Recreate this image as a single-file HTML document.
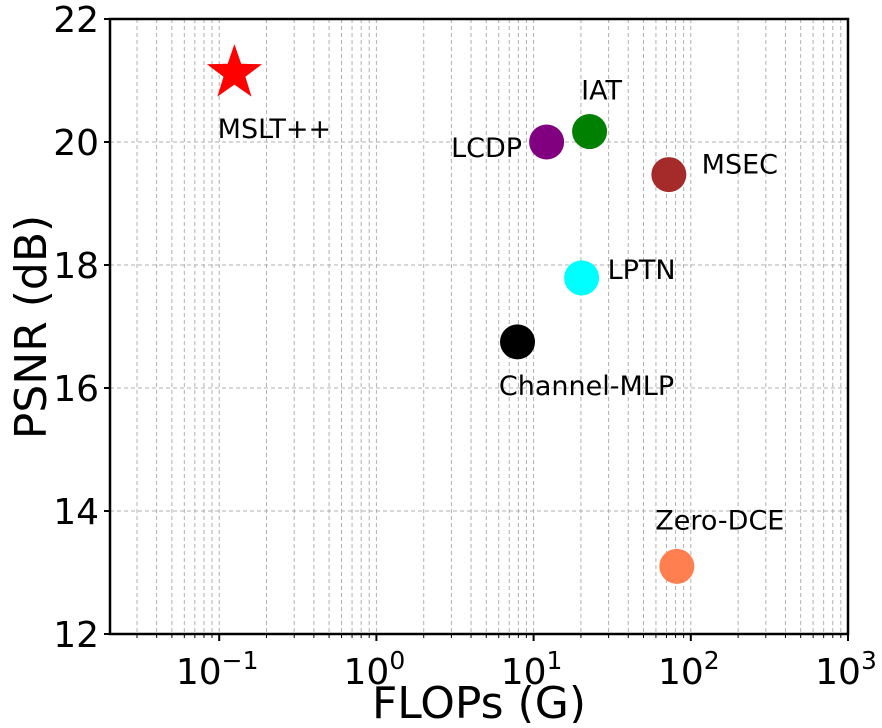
<!DOCTYPE html>
<html><head><meta charset="utf-8"><style>
body{margin:0;background:#fff}
svg text{font-family:"DejaVu Sans","Liberation Sans",sans-serif}
</style></head><body>
<svg id="chart" width="882" height="723"></svg>
<script>
const names=["MSLT++","LCDP","IAT","MSEC","LPTN","Channel-MLP","Zero-DCE"];
const flops=[0.125,12.1,22.7,72.5,20.2,7.9,81.5];
const psnr=[21.12,20.0,20.17,19.47,17.79,16.75,13.1];
const colors=["red","purple","green","#a52a2a","cyan","black","#ff7f50"];
const labelDx=[40,-60,12,71,60,69,43];
const labelDy=[55,5,-42,-11,-9,43,-47];
const yTicks=[12,14,16,18,20,22];
const xExps=[-1,0,1,2,3];
const L=110,R=848,T=19,B=634;
const xmin=Math.log10(0.0202),xmax=3;
const X=v=>L+(Math.log10(v)-xmin)/(xmax-xmin)*(R-L);
const Y=v=>B-(v-12)/10*(B-T);
const svg=document.getElementById('chart');
const NS="http://www.w3.org/2000/svg";
function el(t,a,p){const e=document.createElementNS(NS,t);for(const k in a)e.setAttribute(k,a[k]);(p||svg).appendChild(e);return e;}
for(let e=-2;e<3;e++)for(let m=1;m<10;m++){const v=m*Math.pow(10,e);if(v<0.0202)continue;
 const g=el('line',{x1:X(v),x2:X(v),y1:T,y2:B,stroke:'#b0b0b0','stroke-width':1,'stroke-dasharray':'4,3'});
 
 }
yTicks.forEach(v=>{const g=el('line',{x1:L,x2:R,y1:Y(v),y2:Y(v),stroke:'#b0b0b0','stroke-width':1,'stroke-dasharray':'4,3'});
 
 
 const tk=el('line',{x1:L-6,x2:L,y1:Y(v),y2:Y(v),stroke:'#000','stroke-width':2});
 
 
 const t=el('text',{x:L-11,y:Y(v)+13,'text-anchor':'end','font-size':36});t.textContent=v;
 
 });
xExps.forEach(e=>{const x=X(Math.pow(10,e));
 const tk=el('line',{x1:x,x2:x,y1:B,y2:B+7,stroke:'#000','stroke-width':2});
 
 
 const t=el('text',{x:x-2,y:B+50,'text-anchor':'middle','font-size':36});
 t.innerHTML='10<tspan dy="-15" font-size="25">'+(e<0?'\u2212'+(-e):e)+'</tspan>';
 
 });
for(let e=-2;e<3;e++)for(let m=2;m<10;m++){const v=m*Math.pow(10,e);if(v<0.0202)continue;
 const tk=el('line',{x1:X(v),x2:X(v),y1:B,y2:B+4,stroke:'#000','stroke-width':1});
 
 }
const fr=el('rect',{x:L,y:T,width:R-L,height:B-T,fill:'none',stroke:'#000','stroke-width':2.5});


names.forEach((n,i)=>{const cx=X(flops[i]),cy=Y(psnr[i]);let m;
 if(i===0){const pts=[];for(let k=0;k<10;k++){const r=k%2?11.5:29,a=-Math.PI/2+k*Math.PI/5;pts.push((cx+r*Math.cos(a)).toFixed(1)+','+(cy+r*Math.sin(a)).toFixed(1));}
  m=el('polygon',{points:pts.join(' '),fill:colors[i]});}
 else m=el('circle',{cx:cx,cy:cy,r:17.5,fill:colors[i]});
 
 
 const t=el('text',{x:cx+labelDx[i],y:cy+labelDy[i]+10,'text-anchor':'middle','font-size':27});t.textContent=n;
 
 });
const xt=el('text',{x:(L+R)/2,y:718,'text-anchor':'middle','font-size':44});xt.textContent='FLOPs (G)';


const yt=el('text',{x:0,y:0,'text-anchor':'middle','font-size':44,transform:'translate(46,327) rotate(-90)'});yt.textContent='PSNR (dB)';


</script>
</body></html>
